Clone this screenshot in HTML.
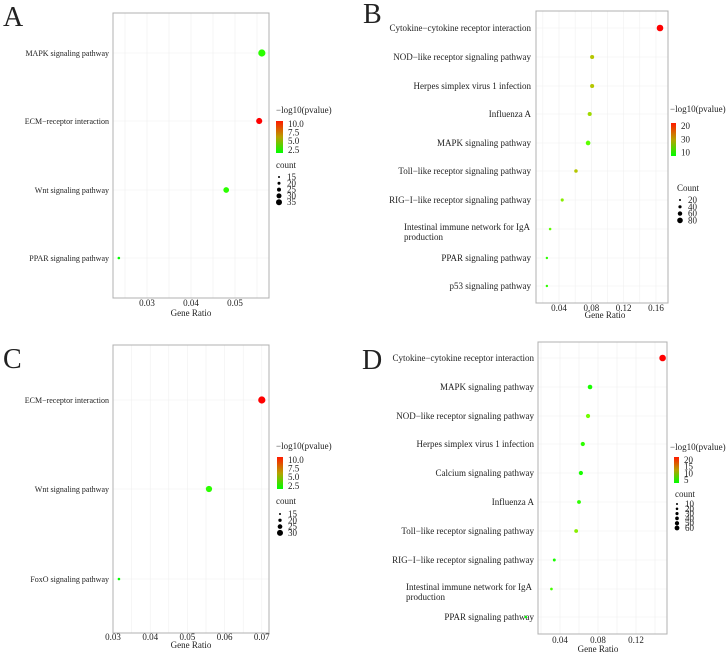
<!DOCTYPE html>
<html><head><meta charset="utf-8">
<style>
html,body{margin:0;padding:0;background:#fff;}
svg{display:block;font-family:"Liberation Serif",serif;}
</style></head>
<body>
<svg id="fig" width="728" height="655" viewBox="0 0 728 655" xmlns="http://www.w3.org/2000/svg"></svg>
<script>
// Panel A data
const aTerms = ["MAPK signaling pathway","ECM\u2212receptor interaction","Wnt signaling pathway","PPAR signaling pathway"];
const aRatio = [0.0561,0.0555,0.048,0.0236];
const aPval = [2.5,11,2.5,1.5];
const aCount = [35,30,28,13];
const aTicks = [0.03,0.04,0.05];
const aColorTicks = ["10.0","7.5","5.0","2.5"];
const aSizeTicks = ["15","20","25","30","35"];
// Panel B data
const bTerms = ["Cytokine\u2212cytokine receptor interaction","NOD\u2212like receptor signaling pathway","Herpes simplex virus 1 infection","Influenza A","MAPK signaling pathway","Toll\u2212like receptor signaling pathway","RIG\u2212I\u2212like receptor signaling pathway","Intestinal immune network for IgA|production","PPAR signaling pathway","p53 signaling pathway"];
const bRatio = [0.165,0.081,0.081,0.078,0.076,0.061,0.044,0.029,0.025,0.025];
const bPval = [22,12,12,11,8,12,10,8,6,6];
const bCount = [90,45,45,45,55,35,28,18,15,15];
const bTicks = [0.04,0.08,0.12,0.16];
const bColorTicks = ["20","30","10"];
const bSizeTicks = ["20","40","60","80"];
// Panel C data
const cTerms = ["ECM\u2212receptor interaction","Wnt signaling pathway","FoxO signaling pathway"];
const cRatio = [0.070,0.0558,0.0316];
const cPval = [11,2.5,1.5];
const cCount = [32,28,13];
const cTicks = [0.03,0.04,0.05,0.06,0.07];
const cColorTicks = ["10.0","7.5","5.0","2.5"];
const cSizeTicks = ["15","20","25","30"];
// Panel D data
const dTerms = ["Cytokine\u2212cytokine receptor interaction","MAPK signaling pathway","NOD\u2212like receptor signaling pathway","Herpes simplex virus 1 infection","Calcium signaling pathway","Influenza A","Toll\u2212like receptor signaling pathway","RIG\u2212I\u2212like receptor signaling pathway","Intestinal immune network for IgA|production","PPAR signaling pathway"];
const dRatio = [0.148,0.0716,0.0695,0.064,0.062,0.060,0.057,0.034,0.031,0.004];
const dPval = [22,5,9,6,5,6,10,5,7,4];
const dCount = [65,40,35,35,35,30,30,18,15,12];
const dTicks = [0.04,0.08,0.12];
const dColorTicks = ["20","15","10","5"];
const dSizeTicks = ["10","20","30","40","50","60"];

const NS="http://www.w3.org/2000/svg";
const svg=document.getElementById('fig');
function mk(tag,attrs,parent){const e=document.createElementNS(NS,tag);for(const k in attrs)e.setAttribute(k,attrs[k]);(parent||svg).appendChild(e);return e;}
function txt(s,x,y,size,anchor,parent){const t=mk('text',{x:x,y:y,'font-size':size,'text-anchor':anchor||'start',fill:'#222'},parent);t.textContent=s;return t;}
function colorFor(p,pmin,pmax){let t=(p-pmin)/(pmax-pmin);t=Math.max(0,Math.min(1,t));const r=Math.round(255*Math.min(1,t*1.6));const g=Math.round(255*Math.min(1,(1-t)*1.4));return `rgb(${r},${g},0)`;}

function panel(cfg){
  const g=mk('g',{});
  
  
  const L=txt(cfg.letter,cfg.letterX,cfg.letterY,28,'start',g);
  
  
  const x0=cfg.box[0],y0=cfg.box[1],x1=cfg.box[2],y1=cfg.box[3];
  const xs=v=>cfg.tx0+(v-cfg.tv0)*cfg.pxPerUnit;
  const step=cfg.ticks[1]-cfg.ticks[0];
  for(let v=cfg.ticks[0]-step*2;v<=cfg.ticks[cfg.ticks.length-1]+step*2;v+=step/2){
    const X=xs(v); if(X<=x0||X>=x1)continue;
    const gl=mk('line',{x1:X,x2:X,y1:y0,y2:y1,stroke:'#efefef','stroke-width':0.6},g);
    
    
  }
  cfg.rows.forEach(Y=>{const gl=mk('line',{x1:x0,x2:x1,y1:Y,y2:Y,stroke:'#efefef','stroke-width':0.6},g);
    
    });
  const box=mk('rect',{x:x0,y:y0,width:x1-x0,height:y1-y0,fill:'none',stroke:'#b0b0b0','stroke-width':1},g);
  
  
  cfg.ticks.forEach(v=>{const X=xs(v);
    const t=txt(String(v),X,cfg.tickY,9,'middle',g);
    
    });
  const xt=txt('Gene Ratio',cfg.xTitle[0],cfg.xTitle[1],9,'middle',g);
  
  
  cfg.terms.forEach((s,i)=>{const Y=cfg.rows[i];const parts=s.split('|');
    if(parts.length==1){const t=txt(s,cfg.labelX,Y+3,cfg.labelSize,'end',g);
      
      }
    else{const t=txt(parts[0],cfg.labelX2,Y+1,cfg.labelSize,'start',g);
      
      
      const t2=txt(parts[1],cfg.labelX2,Y+11,cfg.labelSize,'start',g);
      
      }
  });
  const cmin=Math.min(...cfg.count),cmax=Math.max(...cfg.count);
  cfg.ratio.forEach((v,i)=>{const r=cfg.rmin+(cfg.rmax-cfg.rmin)*(cfg.count[i]-cmin)/(cmax-cmin);
    const c=mk('circle',{cx:xs(v),cy:cfg.rows[i],r:r,fill:colorFor(cfg.pval[i],cfg.pmin,cfg.pmax)},g);
    
    });
  const lt=txt('\u2212log10(pvalue)',cfg.legX,cfg.legTitleY,9,'start',g);
  
  
  const gid='grad'+cfg.id;
  const defs=mk('defs',{},g);
  const lg=mk('linearGradient',{id:gid,x1:0,y1:0,x2:0,y2:1},defs);
  mk('stop',{offset:'0','stop-color':'#ff1a00'},lg);mk('stop',{offset:'0.5','stop-color':'#b8a000'},lg);mk('stop',{offset:'1','stop-color':'#00ff00'},lg);
  const cb=mk('rect',{x:cfg.cbar[0],y:cfg.cbar[1],width:cfg.cbar[2],height:cfg.cbar[3],fill:'url(#'+gid+')'},g);
  
  
  cfg.colorTicks.forEach((s,i)=>{const Y=cfg.cbar[1]+4+i*(cfg.cbar[3]-4)/(cfg.colorTicks.length-1)*0.92;
    const t=txt(s,cfg.cbar[0]+cfg.cbar[2]+5,Y+2,9,'start',g);
    
    });
  const st=txt(cfg.sizeTitle,cfg.sizeTitleX,cfg.sizeTitleY,9,'start',g);
  
  
  cfg.sizeTicks.forEach((s,i)=>{const Y=cfg.sizeY0+i*cfg.sizeStep;const n=cfg.sizeTicks.length;
    const c=mk('circle',{cx:cfg.sizeX,cy:Y,r:1+i*(cfg.sizeRmax-1)/(n-1),fill:'#000'},g);
    
    
    const t=txt(s,cfg.sizeX+8,Y+3,9,'start',g);
    
    });
}

panel({id:'a',letter:'A',letterX:3,letterY:26,box:[113,13,269,298],tx0:147,tv0:0.03,pxPerUnit:4400,ticks:aTicks,tickY:306,xTitle:[191,316],
  rows:[53,121,190,258],terms:aTerms,labelX:109,labelX2:40,labelSize:8,ratio:aRatio,pval:aPval,count:aCount,pmin:1.5,pmax:11,rmin:1.3,rmax:3.6,
  legX:276,legTitleY:113,cbar:[276,121,7,32],colorTicks:aColorTicks,sizeTitle:'count',sizeTitleX:276,sizeTitleY:168,sizeX:279,sizeY0:177,sizeStep:6.3,sizeRmax:3,sizeTicks:aSizeTicks});
panel({id:'b',letter:'B',letterX:363,letterY:23,box:[536,11,668,303],tx0:559,tv0:0.04,pxPerUnit:808,ticks:bTicks,tickY:311,xTitle:[605,318],
  rows:[28,57,86,114,143,171,200,229,258,286],terms:bTerms,labelX:531,labelX2:404,labelSize:9,ratio:bRatio,pval:bPval,count:bCount,pmin:4,pmax:22,rmin:1.2,rmax:3.3,
  legX:670,legTitleY:112,cbar:[671,123,5,33],colorTicks:bColorTicks,sizeTitle:'Count',sizeTitleX:677,sizeTitleY:191,sizeX:680,sizeY0:200,sizeStep:6.8,sizeRmax:2.8,sizeTicks:bSizeTicks});
panel({id:'c',letter:'C',letterX:3,letterY:368,box:[113,345,269,633],tx0:113,tv0:0.03,pxPerUnit:3720,ticks:cTicks,tickY:640,xTitle:[191,648],
  rows:[400,489,579],terms:cTerms,labelX:109,labelX2:40,labelSize:8,ratio:cRatio,pval:cPval,count:cCount,pmin:1.5,pmax:11,rmin:1.3,rmax:3.6,
  legX:276,legTitleY:449,cbar:[277,457,6,32],colorTicks:cColorTicks,sizeTitle:'count',sizeTitleX:276,sizeTitleY:504,sizeX:280,sizeY0:514,sizeStep:6.3,sizeRmax:3,sizeTicks:cSizeTicks});
panel({id:'d',letter:'D',letterX:362,letterY:369,box:[538,342,667,634],tx0:560,tv0:0.04,pxPerUnit:950,ticks:dTicks,tickY:643,xTitle:[598,652],
  rows:[358,387,416,444,473,502,531,560,589,617],terms:dTerms,labelX:534,labelX2:406,labelSize:9,ratio:dRatio,pval:dPval,count:dCount,pmin:4,pmax:22,rmin:1.2,rmax:3.3,
  legX:670,legTitleY:450,cbar:[674,457,5,26],colorTicks:dColorTicks,sizeTitle:'count',sizeTitleX:675,sizeTitleY:497,sizeX:677,sizeY0:504,sizeStep:4.8,sizeRmax:2.4,sizeTicks:dSizeTicks});
</script>
</body></html>
